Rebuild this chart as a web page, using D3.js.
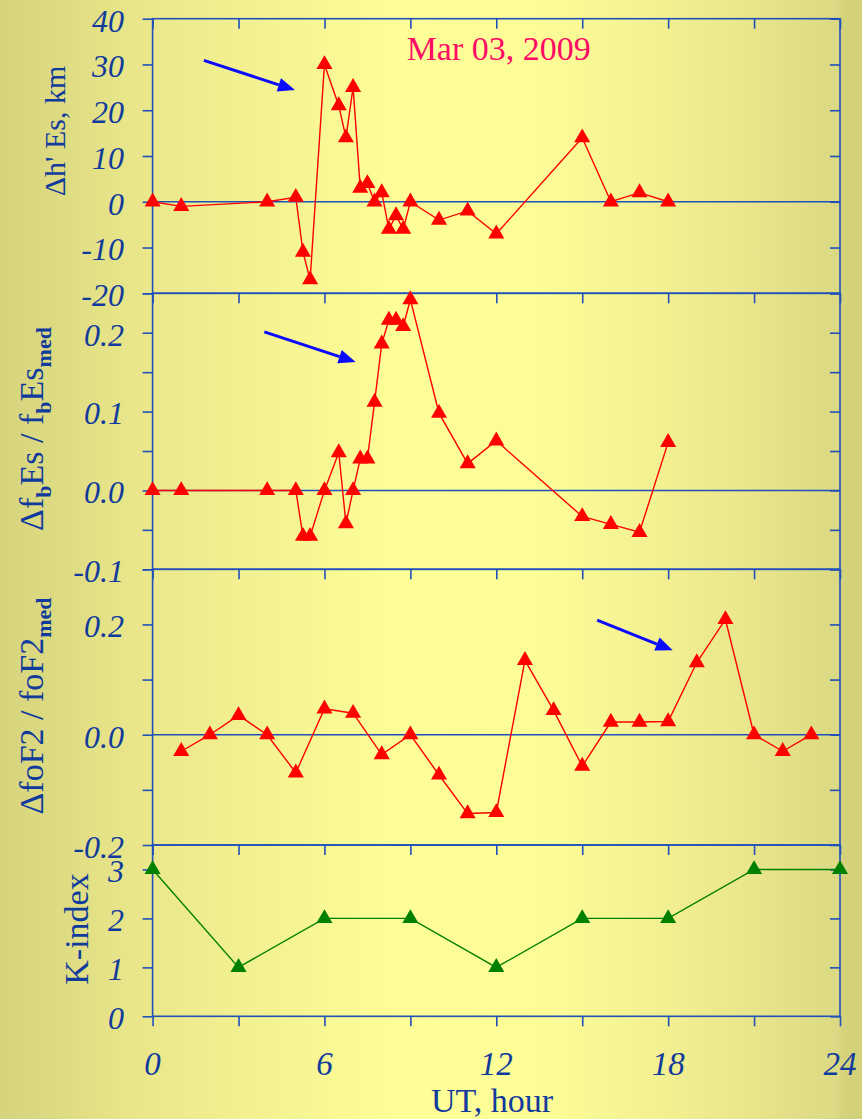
<!DOCTYPE html>
<html>
<head>
<meta charset="utf-8">
<script src="https://cdn.jsdelivr.net/npm/d3@7"></script>
<style>
  html, body { margin: 0; padding: 0; background: #e8e58a; }
  svg { display: block; }
</style>
</head>
<body>
<svg id="chart" width="862" height="1119"></svg>
<script>
// Hourly ionospheric deviations and geomagnetic K-index, 03 March 2009
const dhEsHours  = [0, 1, 4, 5, 5.25, 5.5, 6, 6.5, 6.75, 7, 7.25, 7.5, 7.75, 8, 8.25, 8.5, 8.75, 9, 10, 11, 12, 15, 16, 17, 18];
const dhEsValues = [0, -1, 0, 1, -11, -17, 30, 21, 14, 25, 3, 4, 0, 2, -6, -3, -6, 0, -4, -2, -7, 14, 0, 2, 0];

const fbEsHours  = [0, 1, 4, 5, 5.25, 5.5, 6, 6.5, 6.75, 7, 7.25, 7.5, 7.75, 8, 8.25, 8.5, 8.75, 9, 10, 11, 12, 15, 16, 17, 18];
const fbEsValues = [0, 0, 0, 0, -0.058, -0.058, 0, 0.048, -0.042, 0, 0.040, 0.040, 0.112, 0.186, 0.216, 0.216, 0.208, 0.242,
                    0.098, 0.034, 0.063, -0.033, -0.043, -0.053, 0.061];

const foF2Hours  = [1, 2, 3, 4, 5, 6, 7, 8, 9, 10, 11, 12, 13, 14, 15, 16, 17, 18, 19, 20, 21, 22, 23];
const foF2Values = [-0.030, 0, 0.035, 0, -0.069, 0.047, 0.039, -0.036, 0, -0.073, -0.143, -0.141,
                    0.135, 0.044, -0.057, 0.023, 0.023, 0.024, 0.131, 0.209, 0, -0.030, 0];

const kHours  = [0, 3, 6, 9, 12, 15, 18, 21, 24];
const kValues = [3, 1, 2, 2, 1, 2, 2, 3, 3];

const xTickValues  = [0, 3, 6, 9, 12, 15, 18, 21, 24];
const xTickLabels  = [0, 6, 12, 18, 24];
const dateLabel    = "Mar 03, 2009";

// ---- layout ----
const svg = d3.select("#chart");
const W = 862, H = 1119;
const left = 152.6, right = 840;
const bounds = [18.7, 293.3, 569.3, 845, 1016.3];

const textColor = "#103b9c";
const axisColor = "#2150bb";
const serif = "'Liberation Serif', 'Times New Roman', serif";

// number formats with a plain hyphen for negatives
const locale = d3.formatLocale({ decimal: ".", thousands: ",", grouping: [3], currency: ["", ""], minus: "-" });

// background wash
const defs = svg.append("defs");
const grad = defs.append("linearGradient")
  .attr("id", "wash").attr("gradientUnits", "userSpaceOnUse")
  .attr("x1", 0).attr("y1", 0).attr("x2", W).attr("y2", 0);
[[0, "#d5d37c"], [150 / W, "#ebe88c"], [400 / W, "#fefe98"], [540 / W, "#fdfd98"],
 [700 / W, "#efec8f"], [838 / W, "#dcd984"], [842 / W, "#d4d27b"], [1, "#d2d079"]]
  .forEach(([o, c]) => grad.append("stop").attr("offset", o).attr("stop-color", c));
svg.append("rect").attr("width", W).attr("height", H).attr("fill", "url(#wash)");

const x = d3.scaleLinear().domain([0, 24]).range([left, right]);

const panels = [
  { domain: [-20, 40],    ticks: d3.range(-20, 41, 10),       labels: d3.range(-20, 41, 10),  fmt: locale.format("d"),
    hours: dhEsHours, values: dhEsValues, color: "#ff0000", zero: true },
  { domain: [-0.1, 0.25], ticks: d3.range(-0.1, 0.251, 0.05), labels: [-0.1, 0, 0.1, 0.2],     fmt: locale.format(".1f"),
    hours: fbEsHours, values: fbEsValues, color: "#ff0000", zero: true },
  { domain: [-0.2, 0.3],  ticks: d3.range(-0.2, 0.301, 0.1),  labels: [-0.2, 0, 0.2],          fmt: locale.format(".1f"),
    hours: foF2Hours, values: foF2Values, color: "#ff0000", zero: true },
  { domain: [0, 3.5],     ticks: [0, 1, 2, 3],                labels: [0, 1, 2, 3],             fmt: locale.format("d"),
    hours: kHours, values: kValues, color: "#008000", zero: false }
];

const tri = d3.symbol().type(d3.symbolTriangle).size(112);

panels.forEach((p, i) => {
  const top = bounds[i], bottom = bounds[i + 1];
  const y = d3.scaleLinear().domain(p.domain).range([bottom, top]);
  p.y = y;
  const g = svg.append("g");

  // zero reference line
  if (p.zero) {
    g.append("line")
      .attr("x1", left).attr("x2", right).attr("y1", y(0)).attr("y2", y(0))
      .attr("stroke", axisColor).attr("stroke-width", 1.6);
  }

  // left axis: outward ticks with labels
  const yl = g.append("g").attr("transform", `translate(${left},0)`)
    .call(d3.axisLeft(y).tickValues(p.ticks).tickSize(10).tickFormat(() => ""));
  yl.select(".domain").remove();
  yl.selectAll(".tick line").attr("stroke", axisColor).attr("stroke-width", 1.6);

  g.selectAll("text.ylab").data(p.labels).join("text")
    .attr("class", "ylab")
    .attr("x", 124).attr("y", d => y(d)).attr("dy", "0.40em")
    .attr("text-anchor", "end")
    .attr("font-family", serif).attr("font-style", "italic").attr("font-size", 32)
    .attr("fill", textColor)
    .text(d => p.fmt(Math.abs(d) < 1e-9 ? 0 : d));

  // right axis: inward ticks
  const yr = g.append("g").attr("transform", `translate(${right},0)`)
    .call(d3.axisRight(y).tickValues(p.ticks).tickSize(-10).tickFormat(() => ""));
  yr.select(".domain").remove();
  yr.selectAll(".tick line").attr("stroke", axisColor).attr("stroke-width", 1.6);

  // top edge: inward ticks every 3 h
  const xt = g.append("g").attr("transform", `translate(0,${top})`)
    .call(d3.axisTop(x).tickValues(xTickValues).tickSize(-10).tickFormat(() => ""));
  xt.select(".domain").remove();
  xt.selectAll(".tick line").attr("stroke", axisColor).attr("stroke-width", 1.6);

  // frame
  g.append("rect")
    .attr("x", left).attr("y", top).attr("width", right - left).attr("height", bottom - top)
    .attr("fill", "none").attr("stroke", axisColor).attr("stroke-width", 1.6);

  // series
  const pts = p.hours.map((h, k) => [h, p.values[k]]);
  g.append("path")
    .datum(pts)
    .attr("fill", "none").attr("stroke", p.color).attr("stroke-width", 1.4)
    .attr("d", d3.line().x(d => x(d[0])).y(d => y(d[1])));
  g.selectAll("path.mark").data(pts).join("path")
    .attr("class", "mark")
    .attr("transform", d => `translate(${x(d[0])},${y(d[1])})`)
    .attr("d", tri).attr("fill", p.color);
});

// bottom time axis
const xb = svg.append("g").attr("transform", `translate(0,${bounds[4]})`)
  .call(d3.axisBottom(x).tickValues(xTickValues).tickSize(10).tickFormat(() => ""));
xb.select(".domain").remove();
xb.selectAll(".tick line").attr("stroke", axisColor).attr("stroke-width", 1.6);
svg.selectAll("text.xlab").data(xTickLabels).join("text")
  .attr("class", "xlab")
  .attr("x", d => x(d)).attr("y", 1075)
  .attr("text-anchor", "middle")
  .attr("font-family", serif).attr("font-style", "italic").attr("font-size", 33)
  .attr("fill", textColor)
  .text(d => d);

svg.append("text")
  .attr("x", 492).attr("y", 1112).attr("text-anchor", "middle")
  .attr("font-family", serif).attr("font-size", 34).attr("fill", textColor)
  .text("UT, hour");

// vertical axis titles
function yTitle(bx, cy, size, parts) {
  const t = svg.append("text")
    .attr("transform", `translate(${bx},${cy}) rotate(-90)`)
    .attr("text-anchor", "middle")
    .attr("font-family", serif).attr("font-size", size).attr("fill", textColor);
  let shifted = 0;
  parts.forEach(([txt, sub]) => {
    const s = t.append("tspan").text(txt);
    if (sub && !shifted) { s.attr("dy", 8).attr("font-size", 22).attr("font-weight", "bold"); shifted = 1; }
    else if (sub) { s.attr("font-size", 22).attr("font-weight", "bold"); }
    else if (shifted) { s.attr("dy", -8); shifted = 0; }
  });
  return t;
}
yTitle(65, 131, 30, [["Δh' Es, km"]]);
yTitle(43, 429, 34, [["Δf"], ["b", 1], ["Es / f"], ["b", 1], ["Es"], ["med", 1]]);
yTitle(43, 706, 34, [["ΔfoF2 / foF2"], ["med", 1]]);
yTitle(88, 929, 34, [["K-index"]]);

// date caption
svg.append("text")
  .attr("x", x(8.87)).attr("y", panels[0].y(30.9))
  .attr("font-family", serif).attr("font-size", 34).attr("fill", "#ff0a64")
  .text(dateLabel);

// arrows pointing at the disturbance onsets
const arrows = [
  { panel: 0, from: [1.79, 30.9],  to: [4.97, 24.4] },
  { panel: 1, from: [3.90, 0.201], to: [7.09, 0.163] },
  { panel: 2, from: [15.52, 0.208], to: [18.16, 0.153] }
];
arrows.forEach(a => {
  const y = panels[a.panel].y;
  const x0 = x(a.from[0]), y0 = y(a.from[1]), x1 = x(a.to[0]), y1 = y(a.to[1]);
  const ang = Math.atan2(y1 - y0, x1 - x0);
  const headL = 17, headW = 7;
  const bx = x1 - headL * Math.cos(ang), by = y1 - headL * Math.sin(ang);
  svg.append("line")
    .attr("x1", x0).attr("y1", y0).attr("x2", bx).attr("y2", by)
    .attr("stroke", "#0a0aff").attr("stroke-width", 3);
  const nx = -Math.sin(ang), ny = Math.cos(ang);
  svg.append("path")
    .attr("d", `M${x1},${y1}L${bx + nx * headW},${by + ny * headW}L${bx - nx * headW},${by - ny * headW}Z`)
    .attr("fill", "#0a0aff");
});
</script>
</body>
</html>
